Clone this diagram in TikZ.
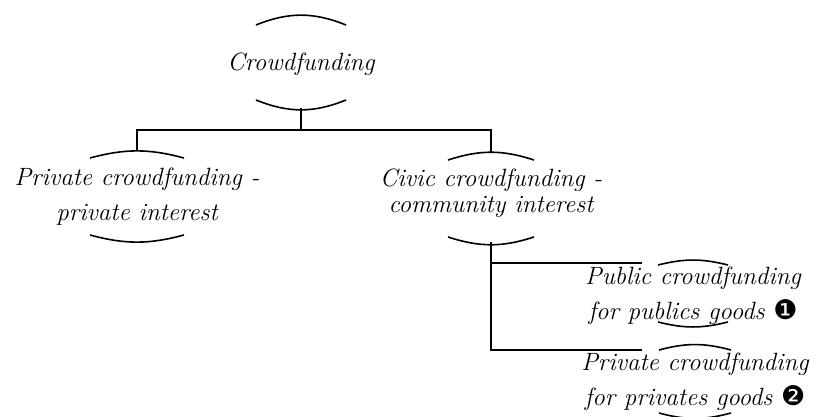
\documentclass[tikz,border=0pt]{standalone}
\usepackage{fontspec}
\usepackage{tikz}
\newfontfamily\dingfont{DejaVu Sans}

% top and bottom rims of a node: name, half width, top dy, bottom dy, bend
\newcommand{\rims}[5]{%
  \draw[rim] ([shift={(-#2,#3)}]#1.center) to[bend left=#5] ([shift={(#2,#3)}]#1.center);
  \draw[rim] ([shift={(-#2,#4)}]#1.center) to[bend right=#5] ([shift={(#2,#4)}]#1.center);
}
\newcommand{\goodsmark}[1]{{\dingfont\fontsize{27}{27}\selectfont #1}}

\begin{document}
\begin{tikzpicture}[
  x=1pt, y=1pt,
  idea/.style={font=\fontsize{25}{35}\selectfont\itshape, align=center, inner sep=0pt},
  rim/.style={line width=1.6pt},
  link/.style={line width=1.6pt}]
\useasboundingbox (0,0) rectangle (814,416);

\node[idea] (root) at (301,352) {Crowdfunding};
\node[idea] (priv) at (137,219) {Private crowdfunding -\\private interest};
\node[idea] (civic) at (491,223) {Civic crowdfunding -\\[-9pt]community interest};
\node[idea] (pub) at (693,120) {Public crowdfunding\\for publics goods \goodsmark{❶}};
\node[idea] (privg) at (695,34) {Private crowdfunding\\for privates goods \goodsmark{❷}};

\rims{root}{45}{39}{-36}{22}
\rims{priv}{47}{39}{-38}{15}
\rims{civic}{43}{33}{-44}{18}
\rims{pub}{35}{31}{-26}{14}
\rims{privg}{36}{32}{-31}{15}

% links
\draw[link] ([yshift=-44]root.center) -- ++(0,-22) -| ([yshift=46]priv.center);
\draw[link] ([yshift=-44]root.center) -- ++(0,-22) -| ([yshift=41]civic.center);
\draw[link] ([yshift=-49]civic.center) |- ([shift={(-51,33)}]pub.center);
\draw[link] ([yshift=-49]civic.center) |- ([shift={(-53,32)}]privg.center);
\end{tikzpicture}
\end{document}
